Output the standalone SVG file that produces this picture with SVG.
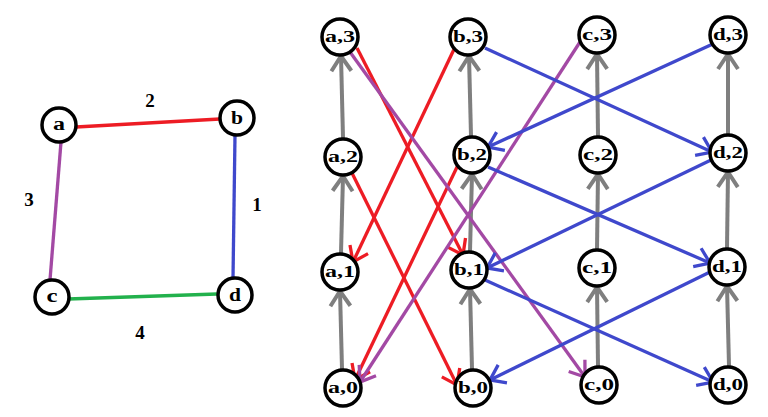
<svg xmlns="http://www.w3.org/2000/svg" width="768" height="417" viewBox="0 0 768 417">
<defs>
<style>
.n circle{fill:#fff;stroke:#000;stroke-width:3.5}
.n text{font-family:"Liberation Serif","Times New Roman",serif;font-weight:bold;font-size:17px;text-anchor:middle;fill:#000}
.w{font-family:"Liberation Serif","Times New Roman",serif;font-weight:bold;font-size:19px;text-anchor:middle;fill:#000}
.e{fill:none;stroke-width:3.3}
.g{stroke:#7f7f7f;stroke-width:4;fill:none}
.r{stroke:#ed1c24}
.p{stroke:#a349a4}
.b{stroke:#3f48cc}
.gr{stroke:#22b14c}
</style>
<marker id="mg" markerUnits="userSpaceOnUse" orient="auto" refX="0" refY="0" markerWidth="30" markerHeight="30" style="overflow:visible"><path d="M-15,-10 L0,0 L-15,10" fill="none" stroke="#7f7f7f" stroke-width="4"/></marker>
<marker id="mr" markerUnits="userSpaceOnUse" orient="auto" refX="0" refY="0" markerWidth="30" markerHeight="30" style="overflow:visible"><path d="M-14,-10 L0,0 L-14,10" fill="none" stroke="#ed1c24" stroke-width="3.3"/></marker>
<marker id="mp" markerUnits="userSpaceOnUse" orient="auto" refX="0" refY="0" markerWidth="30" markerHeight="30" style="overflow:visible"><path d="M-14,-10 L0,0 L-14,10" fill="none" stroke="#a349a4" stroke-width="3.3"/></marker>
<marker id="mb" markerUnits="userSpaceOnUse" orient="auto" refX="0" refY="0" markerWidth="30" markerHeight="30" style="overflow:visible"><path d="M-14,-10 L0,0 L-14,10" fill="none" stroke="#3f48cc" stroke-width="3.3"/></marker>
</defs>
<rect width="768" height="417" fill="#fff"/>

<g id="connectors">
<line class="e r" x1="76" y1="127" x2="220" y2="119"/>
<line class="e p" x1="61" y1="142" x2="50" y2="280"/>
<line class="e b" x1="235" y1="135" x2="233" y2="279"/>
<line class="e gr" x1="68" y1="299" x2="217" y2="294"/>
<line class="g" x1="342" y1="369" x2="340" y2="291" marker-end="url(#mg)"/>
<line class="g" x1="341" y1="253" x2="343" y2="176" marker-end="url(#mg)"/>
<line class="g" x1="343" y1="138" x2="341" y2="56" marker-end="url(#mg)"/>
<line class="g" x1="472" y1="369" x2="470" y2="289" marker-end="url(#mg)"/>
<line class="g" x1="470" y1="251" x2="472" y2="174" marker-end="url(#mg)"/>
<line class="g" x1="471" y1="136" x2="469" y2="56" marker-end="url(#mg)"/>
<line class="g" x1="598" y1="366" x2="597" y2="287" marker-end="url(#mg)"/>
<line class="g" x1="597" y1="249" x2="598" y2="174" marker-end="url(#mg)"/>
<line class="g" x1="598" y1="136" x2="597" y2="54" marker-end="url(#mg)"/>
<line class="g" x1="729" y1="366" x2="727" y2="286" marker-end="url(#mg)"/>
<line class="g" x1="727" y1="248" x2="728" y2="172" marker-end="url(#mg)"/>
<line class="g" x1="728" y1="134" x2="728" y2="54" marker-end="url(#mg)"/>
<line class="e r" x1="357" y1="48" x2="463" y2="255" marker-end="url(#mr)"/>
<line class="e r" x1="457" y1="43" x2="353" y2="262" marker-end="url(#mr)"/>
<line class="e r" x1="352" y1="173" x2="457" y2="385" marker-end="url(#mr)"/>
<line class="e r" x1="458" y1="165" x2="355" y2="380" marker-end="url(#mr)"/>
<line class="e p" x1="350" y1="52" x2="585" y2="377" marker-end="url(#mp)"/>
<line class="e p" x1="580" y1="42" x2="360" y2="382" marker-end="url(#mp)"/>
<line class="e b" x1="485" y1="48" x2="712" y2="152" marker-end="url(#mb)"/>
<line class="e b" x1="715" y1="43" x2="488" y2="147" marker-end="url(#mb)"/>
<line class="e b" x1="488" y1="167" x2="710" y2="263" marker-end="url(#mb)"/>
<line class="e b" x1="711" y1="160" x2="487" y2="268" marker-end="url(#mb)"/>
<line class="e b" x1="485" y1="280" x2="713" y2="382" marker-end="url(#mb)"/>
<line class="e b" x1="710" y1="272" x2="490" y2="380" marker-end="url(#mb)"/>
</g>

<g id="weights">
<text class="w" x="150" y="107">2</text>
<text class="w" x="29" y="206">3</text>
<text class="w" x="257" y="211">1</text>
<text class="w" x="140" y="339">4</text>
</g>

<g id="a" class="n"><circle cx="59" cy="125" r="17"/><text x="59" y="130" textLength="12" lengthAdjust="spacingAndGlyphs" style="font-size:18px">a</text></g>
<g id="b" class="n"><circle cx="237" cy="118" r="17"/><text x="237" y="124" textLength="12" lengthAdjust="spacingAndGlyphs" style="font-size:18px">b</text></g>
<g id="c" class="n"><circle cx="52" cy="297" r="17"/><text x="52" y="302" textLength="11" lengthAdjust="spacingAndGlyphs" style="font-size:18px">c</text></g>
<g id="d" class="n"><circle cx="235" cy="295" r="17"/><text x="235" y="301" textLength="12" lengthAdjust="spacingAndGlyphs" style="font-size:18px">d</text></g>

<g id="a3" class="n"><circle cx="340" cy="37" r="18"/><text x="340" y="42" textLength="30" lengthAdjust="spacingAndGlyphs">a,3</text></g>
<g id="b3" class="n"><circle cx="468" cy="37" r="18"/><text x="468" y="42" textLength="30" lengthAdjust="spacingAndGlyphs">b,3</text></g>
<g id="c3" class="n"><circle cx="597" cy="35" r="18"/><text x="597" y="40" textLength="30" lengthAdjust="spacingAndGlyphs">c,3</text></g>
<g id="d3" class="n"><circle cx="728" cy="35" r="18"/><text x="728" y="40" textLength="30" lengthAdjust="spacingAndGlyphs">d,3</text></g>

<g id="a2" class="n"><circle cx="343" cy="157" r="18"/><text x="343" y="162" textLength="30" lengthAdjust="spacingAndGlyphs">a,2</text></g>
<g id="b2" class="n"><circle cx="472" cy="155" r="18"/><text x="472" y="160" textLength="30" lengthAdjust="spacingAndGlyphs">b,2</text></g>
<g id="c2" class="n"><circle cx="598" cy="155" r="18"/><text x="598" y="160" textLength="30" lengthAdjust="spacingAndGlyphs">c,2</text></g>
<g id="d2" class="n"><circle cx="728" cy="153" r="18"/><text x="728" y="158" textLength="30" lengthAdjust="spacingAndGlyphs">d,2</text></g>

<g id="a1" class="n"><circle cx="340" cy="272" r="18"/><text x="340" y="277" textLength="30" lengthAdjust="spacingAndGlyphs">a,1</text></g>
<g id="b1" class="n"><circle cx="469" cy="270" r="18"/><text x="469" y="275" textLength="30" lengthAdjust="spacingAndGlyphs">b,1</text></g>
<g id="c1" class="n"><circle cx="597" cy="268" r="18"/><text x="597" y="273" textLength="30" lengthAdjust="spacingAndGlyphs">c,1</text></g>
<g id="d1" class="n"><circle cx="727" cy="267" r="18"/><text x="727" y="272" textLength="30" lengthAdjust="spacingAndGlyphs">d,1</text></g>

<g id="a0" class="n"><circle cx="343" cy="388" r="18"/><text x="343" y="393" textLength="30" lengthAdjust="spacingAndGlyphs">a,0</text></g>
<g id="b0" class="n"><circle cx="473" cy="388" r="18"/><text x="473" y="393" textLength="30" lengthAdjust="spacingAndGlyphs">b,0</text></g>
<g id="c0" class="n"><circle cx="599" cy="385" r="18"/><text x="599" y="390" textLength="30" lengthAdjust="spacingAndGlyphs">c,0</text></g>
<g id="d0" class="n"><circle cx="728" cy="385" r="18"/><text x="728" y="390" textLength="30" lengthAdjust="spacingAndGlyphs">d,0</text></g>
</svg>
